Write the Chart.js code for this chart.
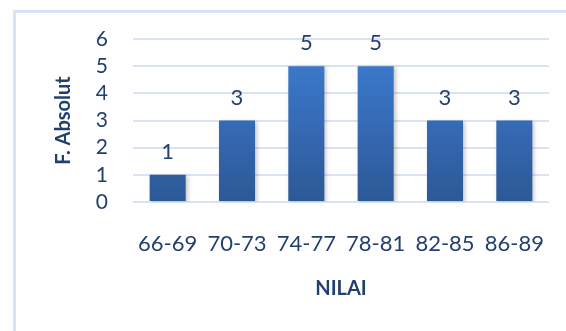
<!DOCTYPE html>
<html>
<head>
<meta charset="utf-8">
<script src="https://cdn.jsdelivr.net/npm/chart.js@4"></script>
<style>
  html, body { margin: 0; padding: 0; background: #fff; }
  body { width: 566px; height: 331px; position: relative; overflow: hidden; }
  .frame {
    position: absolute; left: 13px; top: 10px; width: 600px; height: 400px;
    border-left: 3px solid #dae3f3; border-top: 3px solid #dae3f3;
  }
  #wrap { position: absolute; left: 0; top: 0; width: 566px; height: 331px; }
</style>
</head>
<body>
<div class="frame"></div>
<div id="wrap"><canvas id="chart"></canvas></div>
<script>
const categories = ['66-69', '70-73', '74-77', '78-81', '82-85', '86-89'];
const frequencies = [1, 3, 5, 5, 3, 3];
const yTicks = [0, 1, 2, 3, 4, 5, 6];

const textColor = '#213f6f';
const gridColor = '#dae3f3';
const font = 'Lato, "Open Sans", sans-serif';

function barGradient(context) {
  const area = context.chart.chartArea;
  if (!area) return '#3470bb';
  const g = context.chart.ctx.createLinearGradient(0, area.top, 0, area.bottom);
  g.addColorStop(0, '#3c7fd2');
  g.addColorStop(0.55, '#3569b4');
  g.addColorStop(1, '#2c5995');
  return g;
}

// bar value labels above each bar
const valueLabels = {
  id: 'valueLabels',
  afterDatasetsDraw(chart) {
    const ctx = chart.ctx;
    const meta = chart.getDatasetMeta(0);
    ctx.save();
    ctx.font = '22px ' + font;
    ctx.fillStyle = textColor;
    ctx.textAlign = 'center';
    ctx.textBaseline = 'middle';
    meta.data.forEach((bar, i) => {
      ctx.fillText(String(frequencies[i]), bar.x, bar.y - 23);
    });
    ctx.restore();
  }
};

// soft shadow on the bars
const barShadow = {
  id: 'barShadow',
  beforeDatasetsDraw(chart) {
    const ctx = chart.ctx;
    ctx.save();
    ctx.shadowColor = 'rgba(0,0,0,0.22)';
    ctx.shadowBlur = 4;
    ctx.shadowOffsetX = 2;
    ctx.shadowOffsetY = 1;
  },
  afterDatasetsDraw(chart) {
    chart.ctx.restore();
  }
};

new Chart(document.getElementById('chart'), {
  type: 'bar',
  data: {
    labels: categories,
    datasets: [{
      data: frequencies,
      backgroundColor: barGradient,
      borderWidth: 0,
      categoryPercentage: 1,
      barPercentage: 0.52
    }]
  },
  plugins: [barShadow, valueLabels],
  options: {
    responsive: true,
    maintainAspectRatio: false,
    animation: false,
    layout: { padding: { left: 52, right: 17, top: 39, bottom: 0 } },
    plugins: {
      legend: { display: false },
      tooltip: { enabled: false }
    },
    scales: {
      x: {
        afterFit: (scale) => {
          scale.height = 129;
          scale.paddingLeft = 0;
          scale.paddingRight = 0;
        },
        grid: { display: false, drawTicks: false },
        border: { display: false },
        ticks: { color: textColor, font: { family: font, size: 22 }, padding: 29 },
        title: {
          display: true,
          text: 'NILAI',
          color: textColor,
          font: { family: font, size: 20, weight: 'bold' },
          padding: { top: 0, bottom: 30 }
        }
      },
      y: {
        min: 0,
        max: 6,
        afterFit: (scale) => { scale.width = 81; },
        afterBuildTicks: (scale) => { scale.ticks = yTicks.map((v) => ({ value: v })); },
        grid: { color: gridColor, lineWidth: 2, drawTicks: false },
        border: { display: false },
        ticks: { color: textColor, font: { family: font, size: 21 }, padding: 25, autoSkip: false },
        title: {
          display: true,
          text: 'F. Absolut',
          color: textColor,
          font: { family: font, size: 20, weight: 'bold' },
          padding: 0
        }
      }
    }
  }
});
</script>
</body>
</html>
